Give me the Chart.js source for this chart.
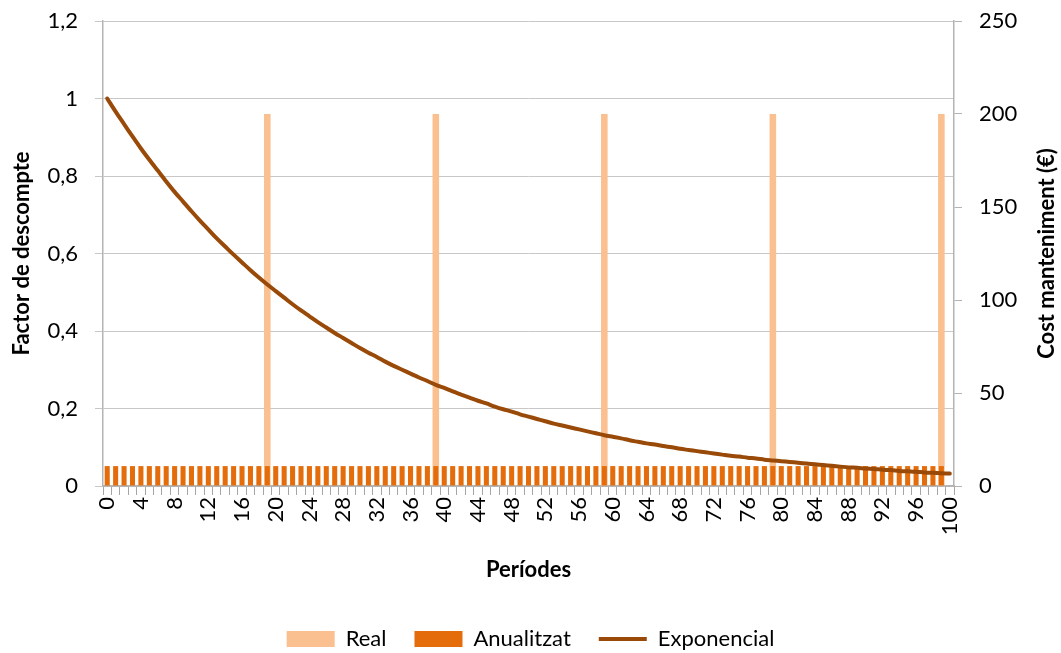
<!DOCTYPE html>
<html>
<head>
<meta charset="utf-8">
<script src="https://cdn.jsdelivr.net/npm/chart.js@4/dist/chart.umd.min.js"></script>
<style>
  html, body { margin: 0; padding: 0; background: #fff; }
  #wrap { width: 1061px; height: 653px; }
</style>
</head>
<body>
<div id="wrap"><canvas id="myChart" width="1061" height="653"></canvas></div>
<script>
// periods 0..100
const periods = [
  0, 1, 2, 3, 4, 5, 6, 7, 8, 9, 10, 11, 12, 13, 14, 15, 16, 17, 18, 19,
  20, 21, 22, 23, 24, 25, 26, 27, 28, 29, 30, 31, 32, 33, 34, 35, 36, 37, 38, 39,
  40, 41, 42, 43, 44, 45, 46, 47, 48, 49, 50, 51, 52, 53, 54, 55, 56, 57, 58, 59,
  60, 61, 62, 63, 64, 65, 66, 67, 68, 69, 70, 71, 72, 73, 74, 75, 76, 77, 78, 79,
  80, 81, 82, 83, 84, 85, 86, 87, 88, 89, 90, 91, 92, 93, 94, 95, 96, 97, 98, 99,
  100
];

// Real: maintenance cost (right axis), only every 20 periods
const real = [
  null, null, null, null, null, null, null, null, null, null, null, null, null, null, null, null, null, null, null, 200,
  null, null, null, null, null, null, null, null, null, null, null, null, null, null, null, null, null, null, null, 200,
  null, null, null, null, null, null, null, null, null, null, null, null, null, null, null, null, null, null, null, 200,
  null, null, null, null, null, null, null, null, null, null, null, null, null, null, null, null, null, null, null, 200,
  null, null, null, null, null, null, null, null, null, null, null, null, null, null, null, null, null, null, null, 200,
  null
];

// Anualitzat (right axis)
const anualitzat = [
  10.7, 10.7, 10.7, 10.7, 10.7, 10.7, 10.7, 10.7, 10.7, 10.7, 10.7, 10.7, 10.7, 10.7, 10.7, 10.7, 10.7, 10.7, 10.7, 10.7,
  10.7, 10.7, 10.7, 10.7, 10.7, 10.7, 10.7, 10.7, 10.7, 10.7, 10.7, 10.7, 10.7, 10.7, 10.7, 10.7, 10.7, 10.7, 10.7, 10.7,
  10.7, 10.7, 10.7, 10.7, 10.7, 10.7, 10.7, 10.7, 10.7, 10.7, 10.7, 10.7, 10.7, 10.7, 10.7, 10.7, 10.7, 10.7, 10.7, 10.7,
  10.7, 10.7, 10.7, 10.7, 10.7, 10.7, 10.7, 10.7, 10.7, 10.7, 10.7, 10.7, 10.7, 10.7, 10.7, 10.7, 10.7, 10.7, 10.7, 10.7,
  10.7, 10.7, 10.7, 10.7, 10.7, 10.7, 10.7, 10.7, 10.7, 10.7, 10.7, 10.7, 10.7, 10.7, 10.7, 10.7, 10.7, 10.7, 10.7, 10.7,
  null
];

// Exponencial: discount factor (left axis)
const exponencial = [
  1.000, 0.966, 0.934, 0.902, 0.871, 0.842, 0.814, 0.786, 0.759, 0.734,
  0.709, 0.685, 0.662, 0.639, 0.618, 0.597, 0.577, 0.557, 0.538, 0.520,
  0.503, 0.486, 0.469, 0.453, 0.438, 0.423, 0.409, 0.395, 0.382, 0.369,
  0.356, 0.344, 0.333, 0.321, 0.310, 0.300, 0.290, 0.280, 0.271, 0.261,
  0.253, 0.244, 0.236, 0.228, 0.220, 0.213, 0.205, 0.198, 0.192, 0.185,
  0.179, 0.173, 0.167, 0.161, 0.156, 0.151, 0.146, 0.141, 0.136, 0.131,
  0.127, 0.123, 0.118, 0.114, 0.110, 0.107, 0.103, 0.100, 0.096, 0.093,
  0.090, 0.087, 0.084, 0.081, 0.078, 0.076, 0.073, 0.071, 0.068, 0.066,
  0.064, 0.062, 0.060, 0.058, 0.056, 0.054, 0.052, 0.050, 0.048, 0.047,
  0.045, 0.044, 0.042, 0.041, 0.039, 0.038, 0.037, 0.035, 0.034, 0.033,
  0.032
];

const leftTickLabels = ['0', '0,2', '0,4', '0,6', '0,8', '1', '1,2'];
const rightTickLabels = ['0', '50', '100', '150', '200', '250'];

const FONT = 'Lato, "Noto Sans", sans-serif';
const gridGray = '#C8C8C8';
const axisGray = '#B4B4B4';

// right axis title reads bottom-to-top, so draw it by hand
const rightTitle = {
  id: 'rightTitle',
  afterDraw(chart) {
    const ctx = chart.ctx;
    const area = chart.chartArea;
    ctx.save();
    ctx.translate(1047, (area.top + area.bottom) / 2);
    ctx.rotate(-Math.PI / 2);
    ctx.font = 'bold 22px ' + FONT;
    ctx.fillStyle = '#000';
    ctx.textAlign = 'center';
    ctx.textBaseline = 'middle';
    ctx.fillText('Cost manteniment (€)', 0, 0);
    ctx.restore();
  }
};

// fixed box sizes, and no extra top/bottom padding from tick labels
function fitY(width) {
  return (scale) => {
    scale.width = width;
    scale.paddingTop = 0;
    scale.paddingBottom = 0;
  };
}

const ctx = document.getElementById('myChart').getContext('2d');
const graph = new Chart(ctx, {
  type: 'bar',
  data: {
    labels: periods,
    datasets: [
      {
        label: 'Real',
        data: real,
        yAxisID: 'y1',
        backgroundColor: '#FAC08F',
        grouped: false,
        categoryPercentage: 1,
        barPercentage: 0.78,
        pointStyle: 'rect',
        order: 3
      },
      {
        label: 'Anualitzat',
        data: anualitzat,
        yAxisID: 'y1',
        backgroundColor: '#E46C0A',
        grouped: false,
        categoryPercentage: 1,
        barPercentage: 0.6,
        pointStyle: 'rect',
        order: 2
      },
      {
        type: 'line',
        label: 'Exponencial',
        data: exponencial,
        yAxisID: 'y',
        borderColor: '#994A08',
        backgroundColor: '#994A08',
        borderWidth: 4,
        borderCapStyle: 'round',
        pointRadius: 0,
        pointStyle: 'line',
        tension: 0.3,
        order: 1
      }
    ]
  },
  options: {
    responsive: false,
    animation: false,
    layout: { padding: { top: 21, left: 0, right: 0, bottom: 0 } },
    plugins: {
      tooltip: { enabled: false },
      legend: {
        position: 'bottom',
        maxHeight: 53,
        labels: {
          usePointStyle: true,
          pointStyleWidth: 48,
          boxHeight: 16,
          padding: 28,
          color: '#000',
          font: { family: FONT, size: 22 },
          sort: (a, b) => a.datasetIndex - b.datasetIndex
        }
      }
    },
    scales: {
      x: {
        offset: true,
        grid: {
          offset: true,
          drawOnChartArea: false,
          tickLength: 9,
          color: '#A6A6A6'
        },
        border: { color: axisGray, width: 2 },
        ticks: {
          autoSkip: false,
          minRotation: 90,
          maxRotation: 90,
          padding: 2,
          color: '#000',
          font: { family: FONT, size: 22 },
          callback: (v, i) => (i % 4 === 0 ? String(periods[i]) : '')
        },
        title: {
          display: true,
          text: 'Períodes',
          color: '#000',
          font: { family: FONT, size: 22, weight: 'bold' },
          padding: { top: 0, bottom: 17 }
        },
        afterFit: (scale) => { scale.height = 114; }
      },
      y: {
        position: 'left',
        min: 0,
        max: 1.2,
        ticks: {
          stepSize: 0.2,
          padding: 17,
          color: '#000',
          font: { family: FONT, size: 22 },
          callback: (v, i) => leftTickLabels[i]
        },
        grid: { color: gridGray, tickLength: 8 },
        border: { color: axisGray, width: 1.5 },
        title: {
          display: true,
          text: 'Factor de descompte',
          color: '#000',
          font: { family: FONT, size: 22, weight: 'bold' },
          padding: { top: 9, bottom: 0 }
        },
        afterFit: fitY(103)
      },
      y1: {
        position: 'right',
        min: 0,
        max: 250,
        ticks: {
          stepSize: 50,
          padding: 17,
          color: '#000',
          font: { family: FONT, size: 22 },
          callback: (v, i) => rightTickLabels[i]
        },
        grid: { drawOnChartArea: false, color: axisGray, tickLength: 8 },
        border: { color: axisGray, width: 1.5 },
        afterFit: fitY(107)
      }
    }
  },
  plugins: [rightTitle]
});
</script>
</body>
</html>
